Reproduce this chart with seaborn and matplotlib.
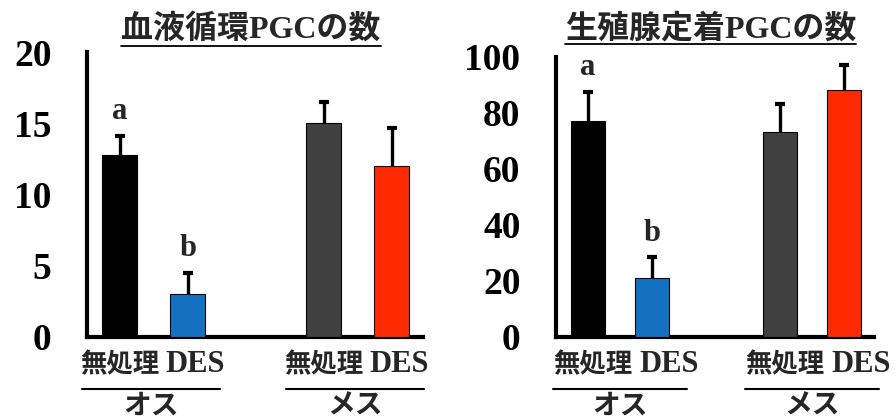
import numpy as np
import pandas as pd
import matplotlib
matplotlib.use("Agg")
import matplotlib.pyplot as plt
import matplotlib.transforms as mtransforms
from matplotlib.lines import Line2D
import seaborn as sns

# ---- data -----------------------------------------------------------------
sexes = ["オス", "オス", "メス", "メス"]
treatments = ["無処理", "DES", "無処理", "DES"]
bar_colors = ["#000000", "#1470C0", "#404040", "#FF2A00"]

circ_title = "血液循環PGCの数"
circ_mean = [12.8, 3.0, 15.0, 12.0]
circ_err = [1.3, 1.5, 1.5, 2.7]
circ_ticks = [0, 5, 10, 15, 20]

gonad_title = "生殖腺定着PGCの数"
gonad_mean = [77.0, 21.0, 73.2, 88.3]
gonad_err = [10.5, 7.4, 10.0, 8.7]
gonad_ticks = [0, 20, 40, 60, 80, 100]

letters = ["a", "b", "", ""]

SERIF = "Liberation Serif"
CJK = "Noto Sans CJK JP"

sns.set_style("white")
plt.rcParams["font.family"] = [SERIF, CJK]
plt.rcParams["font.weight"] = "bold"

W, H = 896, 416
fig = plt.figure(figsize=(W / 100, H / 100), dpi=100)


def px_rect(x0, y0, x1, y1):
    """Axes rectangle given in pixel coordinates from the top-left."""
    return [x0 / W, (H - y1) / H, (x1 - x0) / W, (y1 - y0) / H]


def panel(rect, title, title_cx, means, errs, yticks, xlim, line_span,
          label_shift):
    ax = fig.add_axes(px_rect(*rect))
    groups = sorted(set(sexes), key=sexes.index)
    group_idx = [groups.index(s) for s in sexes]
    treat_idx = [0 if t == "無処理" else 1 for t in treatments]
    pos = [g * 3 + t for g, t in zip(group_idx, treat_idx)]
    keys = [f"{s} {t}" for s, t in zip(sexes, treatments)]
    df = pd.DataFrame({"pos": pos, "value": means, "bar": keys})

    sns.barplot(data=df, x="pos", y="value", hue="bar",
                palette=dict(zip(keys, bar_colors)), native_scale=True,
                dodge=False, width=0.52, errorbar=None, legend=False,
                saturation=1, edgecolor="black", linewidth=0.8, ax=ax)
    for p in ax.patches:
        p.set_zorder(3)

    # upper-only error bars
    _, caps, _ = ax.errorbar(pos, means, yerr=[[0] * len(errs), errs],
                             fmt="none", ecolor="black", elinewidth=2.4,
                             capsize=3.6, capthick=3.0, zorder=2)
    caps[0].set_visible(False)

    ymax = yticks[-1]
    for p, m, e, lt in zip(pos, means, errs, letters):
        if lt:
            ax.text(p, m + e + 0.06 * ymax, lt, ha="center", va="baseline",
                    fontsize=22, fontweight="bold", family=SERIF)

    ax.set_ylim(0, ymax)
    ax.set_xlim(*xlim)
    ax.set_yticks(yticks)
    ax.set_yticklabels([str(v) for v in yticks])
    ax.set_xticks(pos)
    ax.set_xticklabels([])
    for lab in ax.get_yticklabels():
        lab.set_family(SERIF)
        lab.set_fontsize(27)
        lab.set_fontweight("bold")

    ax.set_xlabel("")
    ax.set_ylabel("")
    sns.despine(ax=ax)
    for side in ("left", "bottom"):
        ax.spines[side].set_linewidth(3.0)
        ax.spines[side].set_color("black")
    ax.tick_params(axis="y", direction="out", length=8.6, width=3.0,
                   pad=17, colors="black")
    ax.tick_params(axis="x", length=0)

    trans = mtransforms.blended_transform_factory(ax.transData, fig.transFigure)

    # treatment labels under each bar
    for p, lab, ti in zip(pos, treatments, treat_idx):
        off = mtransforms.ScaledTranslation(label_shift[ti] / 100, 0,
                                            fig.dpi_scale_trans)
        if lab == "DES":
            kw = dict(family=SERIF, fontsize=22)
        else:
            kw = dict(family=[CJK], fontsize=19)
        ax.text(p, (H - 372) / H, lab, ha="center", va="baseline",
                fontweight="bold", transform=trans + off, **kw)

    # group brackets under the treatment labels
    for g, name in enumerate(groups):
        base = g * 3
        ax.plot([base + line_span[0], base + line_span[1]],
                [(H - 389) / H] * 2, color="black", lw=1.5,
                transform=trans, clip_on=False)
        ax.text(base + (line_span[0] + line_span[1]) / 2, (H - 392) / H,
                name, ha="center", va="top", fontsize=20, fontweight="bold",
                family=[CJK], transform=trans)

    # underlined title
    t = fig.text(title_cx / W, (H - 29) / H, title, ha="center",
                 va="center", fontsize=23, fontweight="bold",
                 family=[SERIF, CJK])
    return ax, t


ax1, t1 = panel((87, 52, 423, 337), circ_title, 251, circ_mean, circ_err,
                circ_ticks, (-0.48, 4.46), (-0.55, 1.48), (0, 7))
ax2, t2 = panel((556, 57, 874, 337), gonad_title, 710.5, gonad_mean,
                gonad_err, gonad_ticks, (-0.5, 4.47), (-0.54, 1.55), (5, 17))

fig.canvas.draw()
renderer = fig.canvas.get_renderer()
for t, uy in ((t1, 45.5), (t2, 44.0)):
    bb = t.get_window_extent(renderer)
    fig.add_artist(Line2D([bb.x0 / W, bb.x1 / W], [(H - uy) / H] * 2,
                          color="black", lw=1.3, transform=fig.transFigure))

fig.savefig("out.png", dpi=100)
